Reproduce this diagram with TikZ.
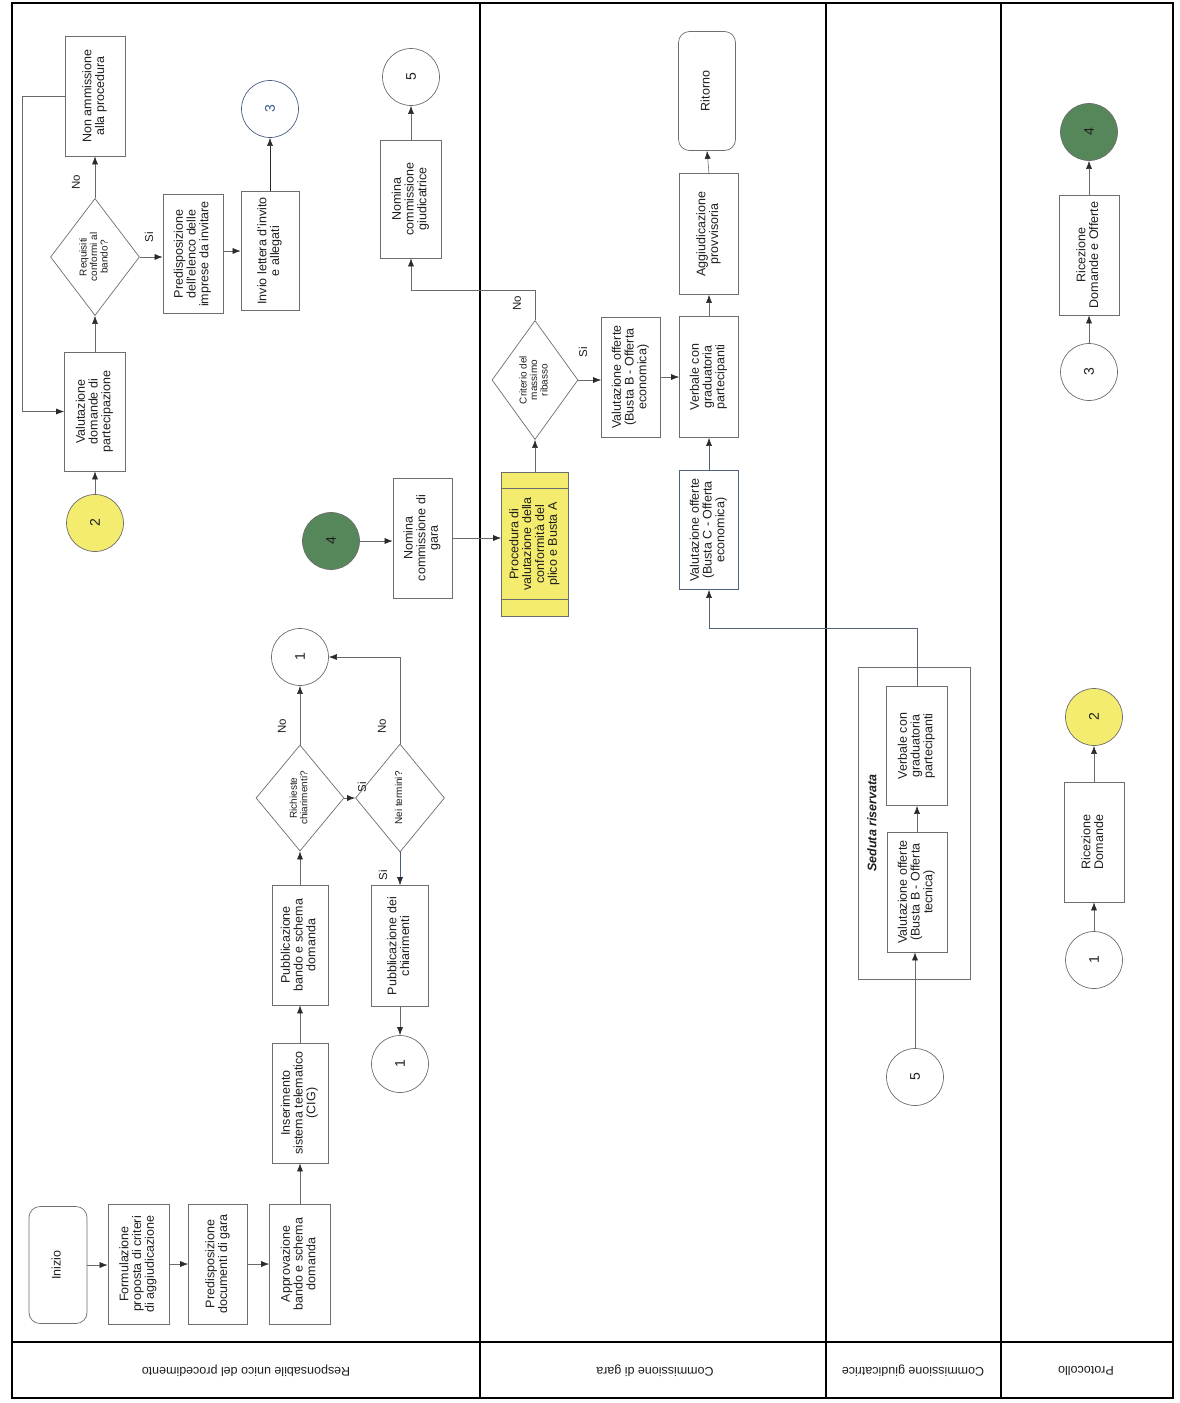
\documentclass[tikz,border=0pt]{standalone}
\usepackage{fontspec}
\usepackage{graphicx}
\setmainfont{Liberation Sans}
\usetikzlibrary{shapes.geometric,arrows.meta,calc}
\definecolor{boxc}{HTML}{6E6E6E}
\definecolor{linec}{HTML}{6A6A6A}
\definecolor{tipc}{HTML}{2A2A2A}
\definecolor{txt}{HTML}{1E1E1E}
\definecolor{yel}{HTML}{F4EC6E}
\definecolor{grn}{HTML}{56875A}
\definecolor{blu}{HTML}{3A5A8A}
\newcommand{\rtx}[1]{\rotatebox{90}{\begin{tabular}{@{}c@{}}#1\end{tabular}}}
\tikzset{
  box/.style={draw=boxc, line width=0.7pt, fill=white, minimum width=60pt, minimum height=120pt, inner sep=0pt, font=\fontsize{12.5}{12.5}\selectfont, text=txt},
  rbox/.style={box, rounded corners=11pt},
  dia/.style={diamond, draw=boxc, line width=0.7pt, fill=white, minimum width=88pt, minimum height=116pt, inner sep=0pt, font=\fontsize{10}{10.5}\selectfont, text=txt},
  conn/.style={circle, draw=boxc, line width=0.7pt, fill=white, minimum size=57pt, inner sep=0pt, font=\fontsize{14}{14}\selectfont, text=txt},
  arr/.style={draw=linec, line width=0.6pt, -{Latex[length=8pt,width=6pt,color=tipc]}},
  lbl/.style={font=\fontsize{11.5}{11.5}\selectfont, text=txt, inner sep=0pt},
  lanelbl/.style={font=\fontsize{12.5}{13}\selectfont, text=txt, inner sep=0pt},
  frame/.style={draw=black, line width=1.3pt}
}
\begin{document}
\begin{tikzpicture}[x=1pt,y=-1pt]
\useasboundingbox[fill=white] (0,0) rectangle (1180,1403);
% frame and lanes
\draw[frame] (12,3) rectangle (1173,1398);
\draw[frame] (480,3) -- (480,1398);
\draw[frame] (826,3) -- (826,1398);
\draw[frame] (1001,3) -- (1001,1398);
\draw[frame] (12,1342) -- (1173,1342);
\node[lanelbl] (L1) at (246,1371) {\rotatebox{180}{Responsabile unico del procedimento}};
\node[lanelbl] (L2) at (655,1371) {\rotatebox{180}{Commissione di gara}};
\node[lanelbl] (L3) at (913,1371) {\rotatebox{180}{Commissione giudicatrice}};
\node[lanelbl] (L4) at (1086,1371) {\rotatebox{180}{Protocollo}};

% Seduta riservata container
\node[draw=boxc, line width=0.7pt, minimum width=112pt, minimum height=312pt, inner sep=0pt] (sed) at (914,823) {};
\node[font=\fontsize{12.5}{13}\selectfont\bfseries\itshape, text=txt, inner sep=0pt] (sedlbl) at (872,823) {\rotatebox{90}{Seduta riservata}};

% Lane 1
\node[rbox, minimum width=58pt, minimum height=117pt] (inizio) at (58,1265) {\rtx{Inizio}};
\node[box, minimum width=61pt] (formul) at (138.5,1264) {\rtx{Formulazione\\proposta di criteri\\di aggiudicazione}};
\node[box, minimum width=59pt] (predoc) at (218,1264) {\rtx{Predisposizione\\documenti di gara}};
\node[box, minimum width=61pt] (approv) at (300,1264) {\rtx{Approvazione\\bando e schema\\domanda}};
\node[box, minimum width=56pt] (inser) at (300,1103) {\rtx{Inserimento\\sistema telematico\\(CIG)}};
\node[box, minimum width=56pt] (pubbando) at (300,945) {\rtx{Pubblicazione\\bando e schema\\domanda}};
\node[dia, minimum width=88pt, minimum height=106pt] (richieste) at (300,798) {\rtx{Richieste\\chiarimenti?}};
\node[conn] (c1a) at (300,657) {\rotatebox{90}{1}};
\node[dia, minimum width=89pt, minimum height=108pt] (neitermini) at (400,798) {\rtx{Nei termini?}};
\node[box, minimum width=57pt, minimum height=121pt] (pubchiar) at (400,946) {\rtx{Pubblicazione dei\\chiarimenti}};
\node[conn] (c1b) at (400,1064) {\rotatebox{90}{1}};

\node[conn, fill=yel] (c2a) at (95,523) {\rotatebox{90}{2}};
\node[box, minimum width=61pt, minimum height=119pt] (valdom) at (95,411.5) {\rtx{Valutazione\\domande di\\partecipazione}};
\node[dia, minimum width=89pt, minimum height=117pt] (requisiti) at (95,257) {\rtx{Requisiti\\conformi al\\bando?}};
\node[box] (nonamm) at (95,96) {\rtx{Non ammissione\\alla procedura}};
\node[box, minimum height=119pt] (predel) at (193,254) {\rtx{Predisposizione\\dell'elenco delle\\imprese da invitare}};
\node[box, minimum width=58pt, minimum height=119pt] (invio) at (270,251) {\rtx{Invio lettera d'invito\\e allegati}};
\node[conn, draw=blu!70!boxc, text=blu] (c3a) at (270,109) {\rotatebox{90}{3}};

\node[conn, fill=grn] (c4a) at (331,541) {\rotatebox{90}{4}};
\node[box, minimum width=59pt] (nomgara) at (422.5,538) {\rtx{Nomina\\commissione di\\gara}};
\node[box, minimum width=61pt, minimum height=118pt] (nomgiud) at (411,199) {\rtx{Nomina\\commissione\\giudicatrice}};
\node[conn] (c5a) at (411,77) {\rotatebox{90}{5}};

% Lane 2
\node[box, fill=yel, minimum width=67pt, minimum height=144pt] (proc) at (535,544) {\rtx{Procedura di\\valutazione della\\conformità del\\plico e Busta A}};
\draw[boxc, line width=0.7pt] ($(proc.north west)+(0,17)$) -- ($(proc.north east)+(0,17)$);
\draw[boxc, line width=0.7pt] ($(proc.south west)+(0,-17)$) -- ($(proc.south east)+(0,-17)$);
\node[dia, minimum width=86pt, minimum height=119pt] (criterio) at (535,380) {\rtx{Criterio del\\massimo\\ribasso}};
\node[box, minimum width=59pt] (valBeco) at (631,377) {\rtx{Valutazione offerte\\(Busta B - Offerta\\economica)}};
\node[box, minimum width=59pt, minimum height=121pt] (verb2) at (709,377) {\rtx{Verbale con\\graduatoria\\partecipanti}};
\node[box, draw=blu!60!boxc, minimum width=59pt, minimum height=119pt] (valCeco) at (709,530) {\rtx{Valutazione offerte\\(Busta C - Offerta\\economica)}};
\node[box, minimum width=59pt, minimum height=121pt] (aggiud) at (709,234) {\rtx{Aggiudicazione\\provvisoria}};
\node[rbox, minimum width=57pt, minimum height=119pt] (ritorno) at (707,91) {\rtx{Ritorno}};

% Lane 3
\node[box, minimum width=61pt, minimum height=119pt] (verb3) at (917,746) {\rtx{Verbale con\\graduatoria\\partecipanti}};
\node[box] (valBtec) at (917,892) {\rtx{Valutazione offerte\\(Busta B - Offerta\\tecnica)}};
\node[conn] (c5b) at (915,1077) {\rotatebox{90}{5}};

% Lane 4
\node[conn, fill=grn] (c4b) at (1089,132) {\rotatebox{90}{4}};
\node[box] (ricDO) at (1089,255) {\rtx{Ricezione\\Domande e Offerte}};
\node[conn] (c3b) at (1089,372) {\rotatebox{90}{3}};
\node[conn, fill=yel] (c2b) at (1094,717) {\rotatebox{90}{2}};
\node[box] (ricD) at (1094,842) {\rtx{Ricezione\\Domande}};
\node[conn] (c1c) at (1094,960) {\rotatebox{90}{1}};

% Connectors lane 1
\draw[arr] (inizio.east) -- (inizio.east -| formul.west);
\draw[arr] (formul.east) -- (predoc.west);
\draw[arr] (predoc.east) -- (approv.west);
\draw[arr] (approv.north) -- (inser.south);
\draw[arr] (inser.north) -- (pubbando.south);
\draw[arr] (pubbando.north) -- (richieste.south);
\draw[arr] (richieste.north) -- (c1a.south);
\draw[arr] (richieste.east) -- (neitermini.west);
\draw[arr] (neitermini.north) |- (c1a.east);
\draw[arr, draw=blu!70!linec] (neitermini.south) -- (pubchiar.north);
\draw[arr] (pubchiar.south) -- (c1b.north);
\draw[arr] (c2a.north) -- (valdom.south);
\draw[arr] (valdom.north) -- (requisiti.south);
\draw[arr] (requisiti.north) -- (nonamm.south);
\draw[arr] (requisiti.east) -- (requisiti.east -| predel.west);
\draw[arr] (invio.west -| predel.east) -- (invio.west);
\draw[arr, draw=black!85] (invio.north) -- (c3a.south);
\draw[arr] (nonamm.west) -- ++(-42,0) |- (valdom.west);
\draw[arr] (c4a.east) -- (c4a.east -| nomgara.west);
\draw[arr] (nomgara.east) -- (nomgara.east -| proc.west);
\coordinate (k1) at (535,290);
\draw[arr] (criterio.north) -- (k1) -| (nomgiud.south);
\draw[arr] (nomgiud.north) -- (c5a.south);

% Connectors lane 2
\draw[arr] (proc.north) -- (criterio.south);
\draw[arr] (criterio.east) -- (criterio.east -| valBeco.west);
\draw[arr] (valBeco.east) -- (verb2.west);
\draw[arr] (verb2.north) -- (aggiud.south);
\draw[arr] (aggiud.north) -- (ritorno.south);
\draw[arr, draw=blu!60!linec] (valCeco.north) -- (verb2.south);
\coordinate (k2) at (917,628);
\draw[arr, draw=blu!45!linec] (verb3.north) -- (k2) -| (valCeco.south);

% Connectors lane 3
\draw[arr] (valBtec.north) -- (verb3.south);
\draw[arr] (c5b.north) -- (c5b.north |- valBtec.south);

% Connectors lane 4
\draw[arr] (c3b.north) -- (ricDO.south);
\draw[arr] (ricDO.north) -- (c4b.south);
\draw[arr] (c1c.north) -- (ricD.south);
\draw[arr] (ricD.north) -- (c2b.south);

% Edge labels
\node[lbl] (no1) at (76,182) {\rotatebox{90}{No}};
\node[lbl] (si1) at (149,237) {\rotatebox{90}{Si}};
\node[lbl] (no2) at (282,726) {\rotatebox{90}{No}};
\node[lbl] (si2) at (362,787) {\rotatebox{90}{Si}};
\node[lbl] (no3) at (382,726) {\rotatebox{90}{No}};
\node[lbl] (si3) at (383,875) {\rotatebox{90}{Si}};
\node[lbl] (no4) at (517,303) {\rotatebox{90}{No}};
\node[lbl] (si4) at (583,352) {\rotatebox{90}{Si}};
\end{tikzpicture}
\end{document}
